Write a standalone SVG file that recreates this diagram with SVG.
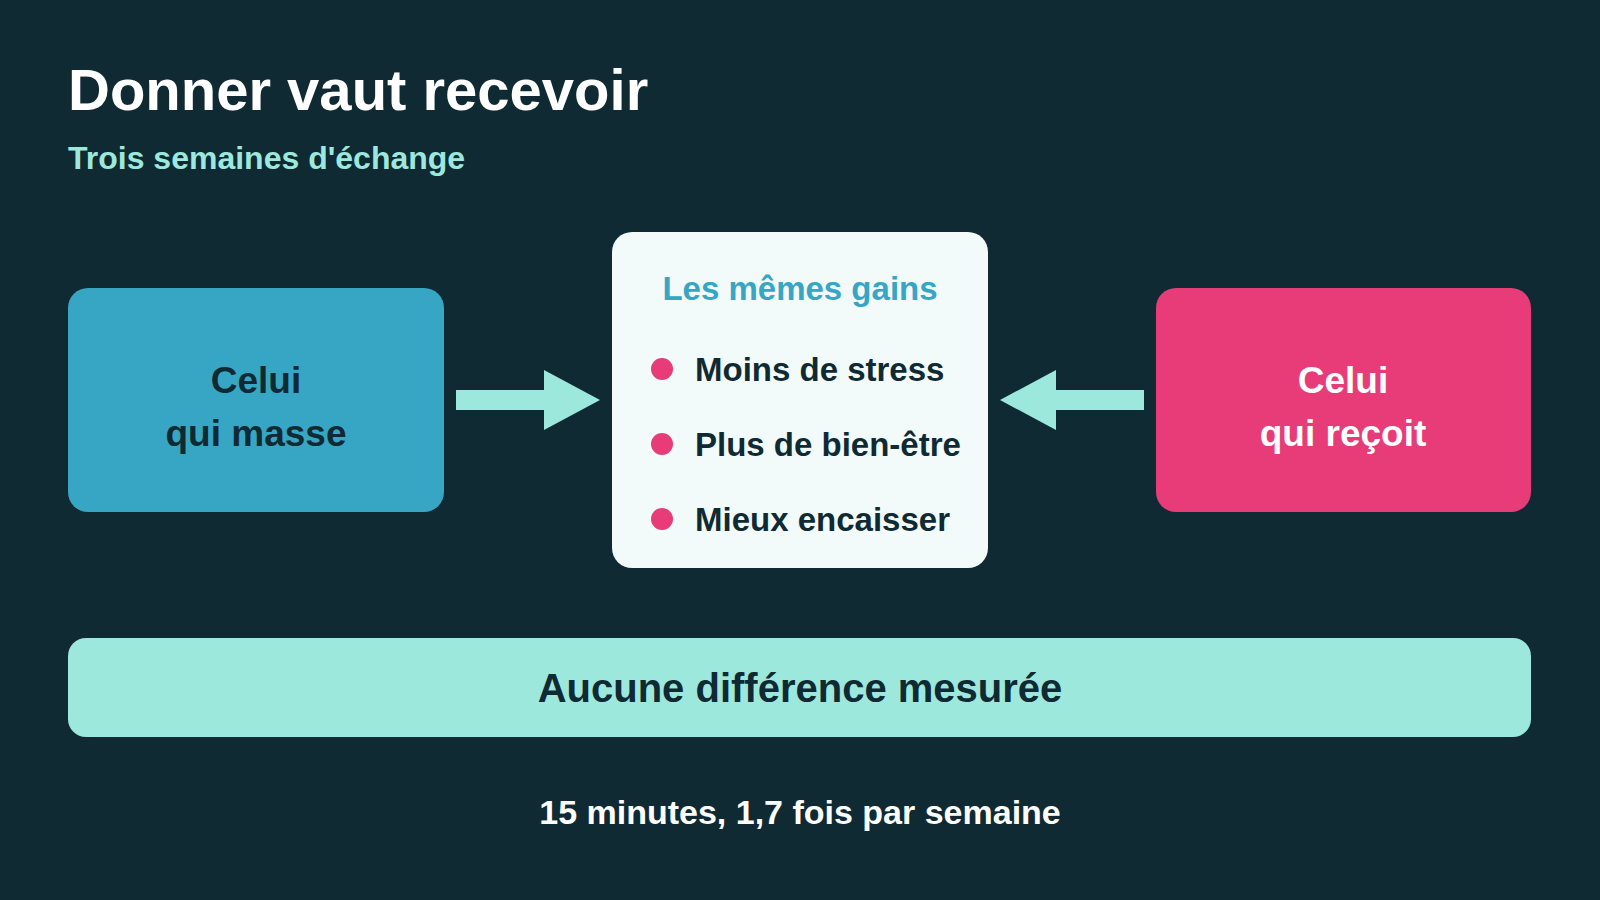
<svg xmlns="http://www.w3.org/2000/svg" width="1600" height="900" viewBox="0 0 1600 900">
<style>
text{font-family:"Liberation Sans",Arial,sans-serif;font-weight:bold}
.dark{fill:#0f2a33}
.c{text-anchor:middle}
.bt{font-size:33px}
.box{font-size:37px}
.dot{fill:#e83c78}
.arr{fill:#9de8dc}
</style>
<rect width="1600" height="900" fill="#0f2a33"/>
<text x="68" x2="" y="110" font-size="58" fill="#ffffff">Donner vaut recevoir</text>
<text x="68" y="169" font-size="32" fill="#9de8dc">Trois semaines d'échange</text>
<g id="giver">
<rect x="68" y="288" width="376" height="224" rx="20" fill="#37a6c4"/>
<text class="dark c box" x="256" y="393">Celui</text>
<text class="dark c box" x="256" y="446">qui masse</text>
</g>
<g id="gains">
<rect x="612" y="232" width="376" height="336" rx="20" fill="#f2fafa"/>
<text class="c bt" x="800" y="300" fill="#37a6c4">Les mêmes gains</text>
<circle class="dot" cx="662" cy="369" r="11"/>
<text class="dark bt" x="695" y="381">Moins de stress</text>
<circle class="dot" cx="662" cy="444" r="11"/>
<text class="dark bt" x="695" y="456">Plus de bien-être</text>
<circle class="dot" cx="662" cy="519" r="11"/>
<text class="dark bt" x="695" y="531">Mieux encaisser</text>
</g>
<g id="receiver">
<rect x="1156" y="288" width="375" height="224" rx="20" fill="#e83c78"/>
<text class="c box" x="1343" y="393" fill="#ffffff">Celui</text>
<text class="c box" x="1343" y="446" fill="#ffffff">qui reçoit</text>
</g>
<g id="connectors">
<polygon class="arr" points="456,390 544,390 544,370 600,400 544,430 544,410 456,410"/>
<polygon class="arr" points="1144,390 1056,390 1056,370 1000,400 1056,430 1056,410 1144,410"/>
</g>
<g id="result">
<rect x="68" y="638" width="1463" height="99" rx="18" fill="#9de8dc"/>
<text class="dark c" x="800" y="702" font-size="40">Aucune différence mesurée</text>
</g>
<text class="c" x="800" y="824" font-size="34" fill="#ffffff">15 minutes, 1,7 fois par semaine</text>
</svg>
